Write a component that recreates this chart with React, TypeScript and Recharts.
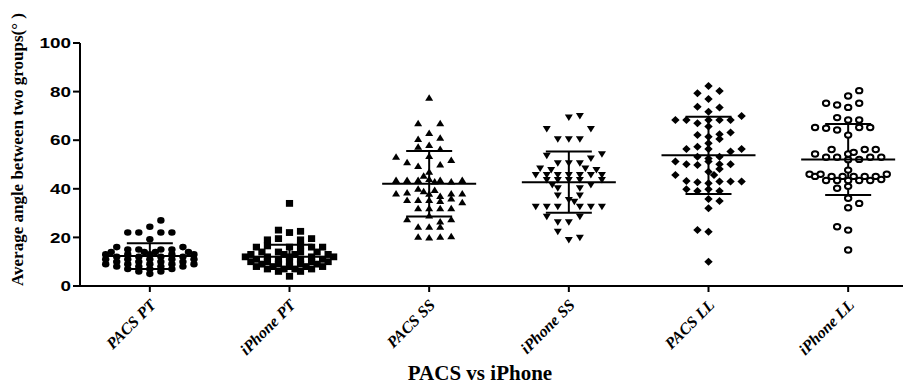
import { ScatterChart, Scatter, XAxis, YAxis, ErrorBar } from "recharts";

const groups = ["PACS PT", "iPhone PT", "PACS SS", "iPhone SS", "PACS LL", "iPhone LL"];
const yTicks = [0, 20, 40, 60, 80, 100];

// mean and SD
const means = [12.3, 12.0, 42.1, 42.7, 53.8, 52.1];
const sds = [5.3, 5.0, 13.5, 12.6, 15.9, 14.6];

// [slot, value] — slot is the dot's place in its row (about one dot width each)
const pacsPT = [
  [1, 27], [0, 24.4], [-2, 22], [-1, 22], [1, 22], [2, 22], [0, 19.2], [-3, 16], [3, 16],
  [-2, 15], [-1, 15], [1, 15], [2, 15],
  [-3.5, 14], [-0.5, 14], [0.5, 14], [3.5, 14],
  [-4, 13], [-2, 13], [0, 13], [2, 13], [4, 13],
  [-3, 12], [-1, 12], [1, 12], [3, 12],
  [-4, 11], [-2, 11], [0, 11], [2, 11], [4, 11],
  [-3, 10], [-1, 10], [1, 10], [3, 10],
  [-4, 9], [-2, 9], [0, 9], [2, 9], [4, 9],
  [-3, 8], [-1, 8], [1, 8], [3, 8],
  [-2, 7], [0, 7], [2, 7],
  [-1, 6], [1, 6], [0, 5],
];

const iphonePT = [
  [0, 34], [-1, 23], [0, 22], [1, 22.5], [-2, 19], [-1, 19.5], [1, 19], [2, 19.5],
  [-3, 16], [-2, 16.5], [0, 16], [1, 16.5], [2, 16], [3, 16],
  [-2.5, 14], [-1, 14], [1, 14], [2.5, 14],
  [-3.5, 13], [-0.5, 13], [0.5, 13], [3.5, 13],
  [-4, 12], [-2, 12], [0, 12], [2, 12], [4, 12],
  [-3, 11], [-1, 11], [1, 11], [3, 11],
  [-3.5, 10], [-2, 10], [0, 10], [2, 10], [3.5, 10],
  [-2.5, 9], [-1, 9], [1, 9], [2.5, 9],
  [-3, 8], [-1.5, 8], [0, 8], [1.5, 8], [3, 8],
  [-2, 7], [-0.5, 7], [0.5, 7], [2, 7],
  [-1, 6], [1, 6], [0, 4],
];

const pacsSS = [
  [0, 77.5], [-1, 67], [1, 67], [0, 63], [-1, 60.5], [1, 61],
  [-1, 57.3], [0, 58], [1, 56.4],
  [-3, 53.2], [-2, 50.9], [-1, 49.4], [0, 53.5], [1, 50], [2, 51.9], [0, 47],
  [-3, 43.6], [-2, 43.6], [-1, 43.6], [-0.5, 45.4], [0, 44], [0.5, 43], [1, 43.6], [2, 43], [3, 43.6],
  [-3, 38.1], [-2, 38.5], [-1, 40], [-0.5, 39], [0, 38], [0.5, 39.5], [1, 37], [2, 38.1], [3, 38.1],
  [-2, 35.4], [-1, 35.4], [0, 35.4], [1, 35], [2, 36], [3, 34.5],
  [-1, 32], [0, 32], [1, 32], [2, 32],
  [-2, 27.5], [1, 26.5], [2, 27.5], [0, 29],
  [-1, 24.4], [0, 24.4], [1, 24.4],
  [-1, 20.3], [0, 20], [1, 20.3], [2, 20.5],
];

const iphoneSS = [
  [0, 69.3], [1, 70], [-2, 64.6], [2, 64.6], [-1, 60.4], [0, 60.4], [1, 60.4],
  [-2, 53.6], [2, 52.5], [3, 54.2],
  [-1, 50.5], [0, 50.5], [1, 50.5],
  [-2.6, 48.4], [-1.6, 47.7], [1.5, 48.4], [2.5, 47.7],
  [-3, 45.7], [-2, 45.7], [-1, 45.7], [0, 45.7], [1, 45.7], [2, 45.7], [3, 45.7],
  [-2, 43.6], [-1, 43.6], [0, 43.6], [1, 43.6], [3, 43.6],
  [-1.5, 41.6], [2, 41.6],
  [-1, 40.2], [1, 40.2],
  [-1, 37.2], [1, 37.2],
  [0, 35.4], [0.5, 34.7],
  [-3, 32.6], [-2, 32.6], [-1, 32.6], [1, 32.6], [2, 32.6], [3, 32.6],
  [-2, 28.5], [-1, 26.2], [0, 26.2], [1, 28.5],
  [-1, 22.3],
  [0, 18.9], [1, 19.9],
];

const pacsLL = [
  [0, 82.3], [-1, 79.3], [1, 80.2], [0, 77], [-1, 73.8], [1, 73.5], [0, 71.7],
  [-3, 68.3], [-2, 68.3], [-1, 67], [0, 68.3], [1, 68.3], [2, 68.3], [3, 70],
  [0, 65.6],
  [-1, 62.1], [0, 61.4], [1, 62.4], [2, 63.2],
  [1, 60.5], [0, 58.7],
  [-2, 56.4], [-1, 57.3], [0, 56.4], [2, 55.3], [3, 56.4],
  [-1, 53.2], [0, 52.5], [1, 53.2],
  [-3, 51.2], [-2, 50.1], [-1, 49.8], [0, 51.2], [1, 50.1], [2, 50.1],
  [0, 47], [1, 48.1],
  [-3, 45.7], [-2, 43.2], [-1, 42.7], [0, 42.3], [0.5, 45.7], [1, 43], [2, 43], [3, 43],
  [-2, 39.8], [-1, 39.1], [0, 39.8], [1, 39.1],
  [0, 35.8], [1, 35],
  [0, 32],
  [-1, 23], [0, 22.3],
  [0, 10],
];

const iphoneLL = [
  [1, 80.4], [0, 78.2], [-2, 75.2], [-1, 74.5], [0, 73.5], [1, 75.2],
  [-1, 69.3], [0, 68.3], [1, 68.3],
  [-3, 65.2], [-2, 64.9], [-1, 64.2], [1, 65.2], [2, 65.2],
  [0, 62.1],
  [-1.5, 56.2], [1.5, 56.2], [2.5, 56.2],
  [-3, 54.3], [-2, 53], [-1, 53], [0, 54.3], [0.5, 55], [1, 52.1], [2, 53], [3, 53],
  [0, 52], [0, 47.7],
  [-3.5, 46], [-3, 45.1], [-2.5, 46], [-1.5, 45.1], [-0.5, 45.1], [0.5, 45.1], [1.5, 45.1], [2.5, 45.1], [3.5, 46],
  [-2, 43.4], [-1, 43.4], [0, 43.4], [1, 43.4], [2, 43.4], [3, 43.8],
  [-1, 40.2], [0, 41],
  [0, 36.1], [0, 32.2], [1, 34],
  [-1, 24.4], [0, 23], [0, 14.8],
];

const groupDots = [pacsPT, iphonePT, pacsSS, iphoneSS, pacsLL, iphoneLL];
const markers = ["circle", "square", "triangle", "triangleDown", "diamond", "ring"];

const SLOT = 0.079;

const toPoints = (dots: number[][], gi: number) =>
  dots.map(([slot, v]) => ({ x: gi + slot * SLOT, y: v }));

const summary = groups.map((_, i) => ({ x: i, y: means[i], sd: sds[i] }));

function Marker({ cx, cy, kind }: any) {
  if (cx == null || cy == null) return null;
  switch (kind) {
    case "circle":
      return <ellipse cx={cx} cy={cy} rx={3.7} ry={3.3} fill="#000" />;
    case "square":
      return <rect x={cx - 3.6} y={cy - 3.4} width={7.2} height={6.8} fill="#000" />;
    case "triangle":
      return <polygon points={`${cx - 4},${cy + 3} ${cx + 4},${cy + 3} ${cx},${cy - 3.5}`} fill="#000" />;
    case "triangleDown":
      return <polygon points={`${cx - 4},${cy - 3} ${cx + 4},${cy - 3} ${cx},${cy + 3.5}`} fill="#000" />;
    case "diamond":
      return <polygon points={`${cx - 4.2},${cy} ${cx},${cy - 4} ${cx + 4.2},${cy} ${cx},${cy + 4}`} fill="#000" />;
    default:
      return <ellipse cx={cx} cy={cy} rx={3.2} ry={2.7} fill="#fff" stroke="#000" strokeWidth={2} />;
  }
}

const MeanLine = ({ cx, cy }: any) =>
  cx == null ? null : <line x1={cx - 47} x2={cx + 47} y1={cy} y2={cy} stroke="#000" strokeWidth={2} />;

const YTick = ({ x, y, payload }: any) => (
  <g transform={`translate(${x},${y}) scale(1.3,1)`}>
    <text x={0} y={0} dy="0.36em" textAnchor="end" fontFamily="Liberation Sans, Arial" fontWeight="bold" fontSize={14.5} fill="#000">
      {payload.value}
    </text>
  </g>
);

const XTick = ({ x, y, payload }: any) => (
  <g transform={`translate(${x + 3},${y + 8}) rotate(-45)`}>
    <text x={0} y={0} dy="0.35em" textAnchor="end" fontFamily="Liberation Serif, Times New Roman" fontWeight="bold" fontStyle="italic" fontSize={16} fill="#000">
      {groups[payload.value]}
    </text>
  </g>
);

const YTitle = ({ viewBox }: any) => {
  const x = viewBox.x + 23;
  const y = viewBox.y + viewBox.height / 2 - 15;
  return (
    <text x={x} y={y} transform={`rotate(-90 ${x} ${y})`} textAnchor="middle" fontFamily="Liberation Serif, Times New Roman" fontWeight="bold" fontSize={17} fill="#000">
      Average angle between two groups(° )
    </text>
  );
};

const XTitle = ({ viewBox }: any) => (
  <text x={viewBox.x + viewBox.width / 2 - 19} y={viewBox.y + 94} textAnchor="middle" fontFamily="Liberation Serif, Times New Roman" fontWeight="bold" fontSize={21} fill="#000">
    PACS vs iPhone
  </text>
);

export default function App() {
  return (
    <div style={{ margin: -8, width: 911, height: 389, overflow: "hidden", background: "#fff" }}>
      <ScatterChart width={918} height={389} margin={{ top: 43, right: 0, bottom: 0, left: 0 }}>
        <XAxis
          type="number"
          dataKey="x"
          domain={[-0.5, 5.5]}
          ticks={[0, 1, 2, 3, 4, 5]}
          allowDataOverflow
          height={103}
          tick={<XTick />}
          tickSize={6}
          axisLine={{ stroke: "#000", strokeWidth: 2 }}
          tickLine={{ stroke: "#000", strokeWidth: 2 }}
          label={<XTitle />}
        />
        <YAxis
          type="number"
          dataKey="y"
          domain={[0, 100]}
          ticks={yTicks}
          width={80}
          tick={<YTick />}
          tickSize={7}
          axisLine={{ stroke: "#000", strokeWidth: 2 }}
          tickLine={{ stroke: "#000", strokeWidth: 2 }}
          label={<YTitle />}
        />
        {groupDots.map((dots, gi) => (
          <Scatter
            key={groups[gi]}
            name={groups[gi]}
            data={toPoints(dots, gi)}
            isAnimationActive={false}
            shape={(p: any) => <Marker {...p} kind={markers[gi]} />}
          />
        ))}
        <Scatter data={summary} isAnimationActive={false} shape={(p: any) => <MeanLine {...p} />}>
          <ErrorBar dataKey="sd" direction="y" width={23} stroke="#000" strokeWidth={2} isAnimationActive={false} />
        </Scatter>
      </ScatterChart>
    </div>
  );
}
